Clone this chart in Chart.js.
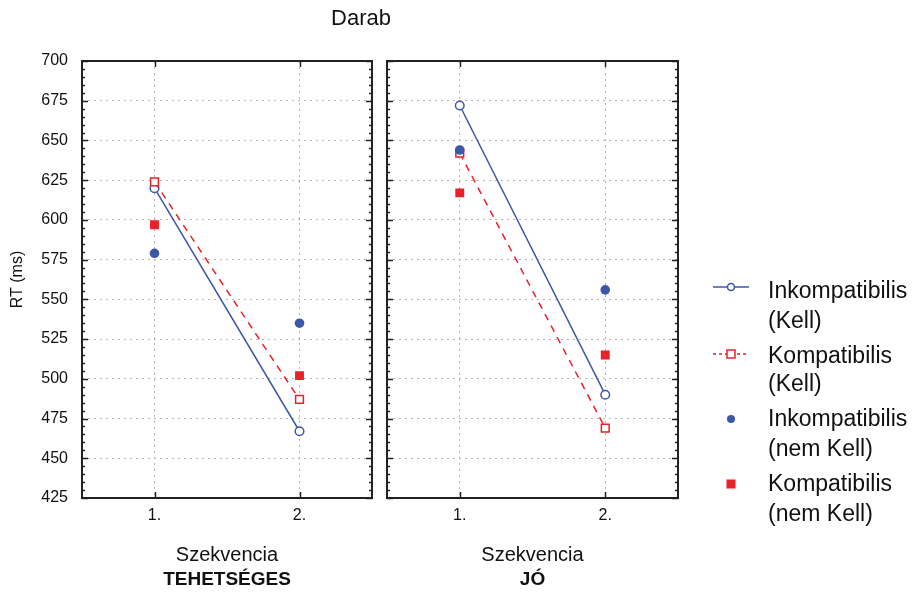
<!DOCTYPE html>
<html>
<head>
<meta charset="utf-8">
<script src="https://cdn.jsdelivr.net/npm/chart.js@4"></script>
<style>
  body { margin: 0; background: #fff; }
  #wrap { position: relative; width: 917px; height: 592px; }
  canvas { position: absolute; left: 0; top: 0; }
</style>
</head>
<body>
<div id="wrap">
  <canvas id="panelA" width="917" height="592"></canvas>
  <canvas id="panelB" width="917" height="592"></canvas>
</div>
<script>
// adatok
var categories = ['1.', '2.'];
var yMin = 425, yMax = 700, yStep = 25;

var tehInkKell = [620, 467];
var tehKompKell = [624, 487];
var tehInkNemKell = [579, 535];
var tehKompNemKell = [597, 502];

var joInkKell = [672, 490];
var joKompKell = [642, 469];
var joInkNemKell = [644, 556];
var joKompNemKell = [617, 515];

var legendLabels = [
  ['Inkompatibilis', '(Kell)'],
  ['Kompatibilis', '(Kell)'],
  ['Inkompatibilis', '(nem Kell)'],
  ['Kompatibilis', '(nem Kell)']
];

var BLUE = '#3b57a7';
var RED = '#e8212a';
var FONT = '"Liberation Sans", Arial, sans-serif';

function makeDatasets(ink, komp, inkN, kompN) {
  return [
    { label: legendLabels[0].join(' '), data: ink, borderColor: BLUE, backgroundColor: '#fff',
      borderWidth: 1.5, pointStyle: 'circle', pointRadius: 4.3, pointBorderWidth: 1.5, order: 3 },
    { label: legendLabels[1].join(' '), data: komp, borderColor: RED, backgroundColor: '#fff',
      borderWidth: 1.5, borderDash: [7, 6], pointStyle: 'rect', pointRadius: 5.5, pointBorderWidth: 1.5, order: 2 },
    { label: legendLabels[2].join(' '), data: inkN, borderColor: BLUE, backgroundColor: BLUE,
      showLine: false, pointStyle: 'circle', pointRadius: 4.8, pointBorderWidth: 0, order: 0 },
    { label: legendLabels[3].join(' '), data: kompN, borderColor: RED, backgroundColor: RED,
      showLine: false, pointStyle: 'rect', pointRadius: 6.3, pointBorderWidth: 0, order: 1 }
  ];
}

// keret, belső osztások, tengelyfeliratok
var frameMarks = {
  id: 'frameMarks',
  afterDraw: function(chart, args, opts) {
    var ctx = chart.ctx, a = chart.chartArea;
    var x = chart.scales.x, y = chart.scales.y;
    ctx.save();
    ctx.strokeStyle = '#222';
    ctx.lineWidth = 1.5;
    for (var v = yMin; v <= yMax; v += 5) {
      var py = Math.round(y.getPixelForValue(v)) + 0.5;
      var len = ((v - yMin) % yStep === 0) ? 6 : 3;
      ctx.beginPath();
      ctx.moveTo(a.left, py); ctx.lineTo(a.left + len, py);
      ctx.moveTo(a.right, py); ctx.lineTo(a.right - len, py);
      ctx.stroke();
    }
    for (var i = 0; i < categories.length; i++) {
      var px = Math.round(x.getPixelForValue(i)) + 0.5;
      ctx.beginPath();
      ctx.moveTo(px, a.top); ctx.lineTo(px, a.top + 6);
      ctx.moveTo(px, a.bottom); ctx.lineTo(px, a.bottom - 6);
      ctx.stroke();
    }
    ctx.lineWidth = 2;
    ctx.strokeRect(a.left, a.top, a.width, a.height);

    var cx = (a.left + a.right) / 2;
    ctx.fillStyle = '#111';
    ctx.textAlign = 'center';
    ctx.textBaseline = 'middle';
    ctx.font = '20px ' + FONT;
    ctx.fillText('Szekvencia', cx, 555);
    ctx.font = 'bold 19px ' + FONT;
    ctx.fillText(opts.group, cx, 580);

    if (opts.title) {
      ctx.font = '22px ' + FONT;
      ctx.fillText(opts.title, 361, 19);
    }
    if (opts.legend) {
      var symY = [287, 354, 419, 484];
      var txtY = [[292, 322], [357, 385], [420, 450], [485, 515]];
      var sx = 731;
      ctx.textAlign = 'left';
      ctx.font = '23px ' + FONT;
      for (var k = 0; k < 4; k++) {
        ctx.fillStyle = '#111';
        ctx.fillText(legendLabels[k][0], 768, txtY[k][0]);
        ctx.fillText(legendLabels[k][1], 768, txtY[k][1]);
      }
      // jelek
      ctx.lineWidth = 1.5;
      ctx.strokeStyle = BLUE;
      ctx.beginPath(); ctx.moveTo(713, symY[0]); ctx.lineTo(749, symY[0]); ctx.stroke();
      ctx.fillStyle = '#fff';
      ctx.beginPath(); ctx.arc(sx, symY[0], 3.5, 0, Math.PI * 2); ctx.fill(); ctx.stroke();

      ctx.strokeStyle = RED;
      ctx.setLineDash([3, 3]);
      ctx.beginPath(); ctx.moveTo(713, symY[1]); ctx.lineTo(749, symY[1]); ctx.stroke();
      ctx.setLineDash([]);
      ctx.fillStyle = '#fff';
      ctx.fillRect(sx - 4, symY[1] - 4, 8, 8);
      ctx.strokeRect(sx - 4, symY[1] - 4, 8, 8);

      ctx.fillStyle = BLUE;
      ctx.beginPath(); ctx.arc(sx, symY[2], 4, 0, Math.PI * 2); ctx.fill();
      ctx.fillStyle = RED;
      ctx.fillRect(sx - 4.5, symY[3] - 4.5, 9, 9);
    }
    ctx.restore();
  }
};

function panelOptions(isLeft, group) {
  return {
    responsive: false,
    animation: false,
    devicePixelRatio: 1,
    layout: { padding: isLeft ? { left: 0, top: 61, right: 545, bottom: 0 }
                              : { left: 387, top: 61, right: 239, bottom: 0 } },
    scales: {
      x: {
        type: 'category',
        offset: true,
        grid: { color: '#b5b5b5', lineWidth: 1, drawTicks: false, offset: false },
        border: { display: false, dash: [2, 4] },
        ticks: { color: '#111', padding: 8, font: { family: FONT, size: 16 } },
        afterFit: function(s) { s.height = 94; }
      },
      y: {
        min: yMin, max: yMax,
        grid: { color: '#b5b5b5', lineWidth: 1, drawTicks: false },
        border: { display: false, dash: [2, 4] },
        ticks: { display: isLeft, stepSize: yStep, color: '#111', padding: 14,
                 font: { family: FONT, size: 16 } },
        title: { display: isLeft, text: 'RT (ms)', color: '#111', padding: { top: 8, bottom: 0 },
                 font: { family: FONT, size: 16 } },
        afterFit: function(s) { s.width = isLeft ? 82 : 0; }
      }
    },
    plugins: {
      legend: { display: false },
      tooltip: { enabled: false },
      frameMarks: { group: group, title: isLeft ? 'Darab' : null, legend: !isLeft }
    }
  };
}

document.addEventListener('DOMContentLoaded', function() {
  new Chart(document.getElementById('panelA').getContext('2d'), {
    type: 'line',
    data: { labels: categories, datasets: makeDatasets(tehInkKell, tehKompKell, tehInkNemKell, tehKompNemKell) },
    options: panelOptions(true, 'TEHETSÉGES'),
    plugins: [frameMarks]
  });
  new Chart(document.getElementById('panelB').getContext('2d'), {
    type: 'line',
    data: { labels: categories, datasets: makeDatasets(joInkKell, joKompKell, joInkNemKell, joKompNemKell) },
    options: panelOptions(false, 'JÓ'),
    plugins: [frameMarks]
  });
});
</script>
</body>
</html>
